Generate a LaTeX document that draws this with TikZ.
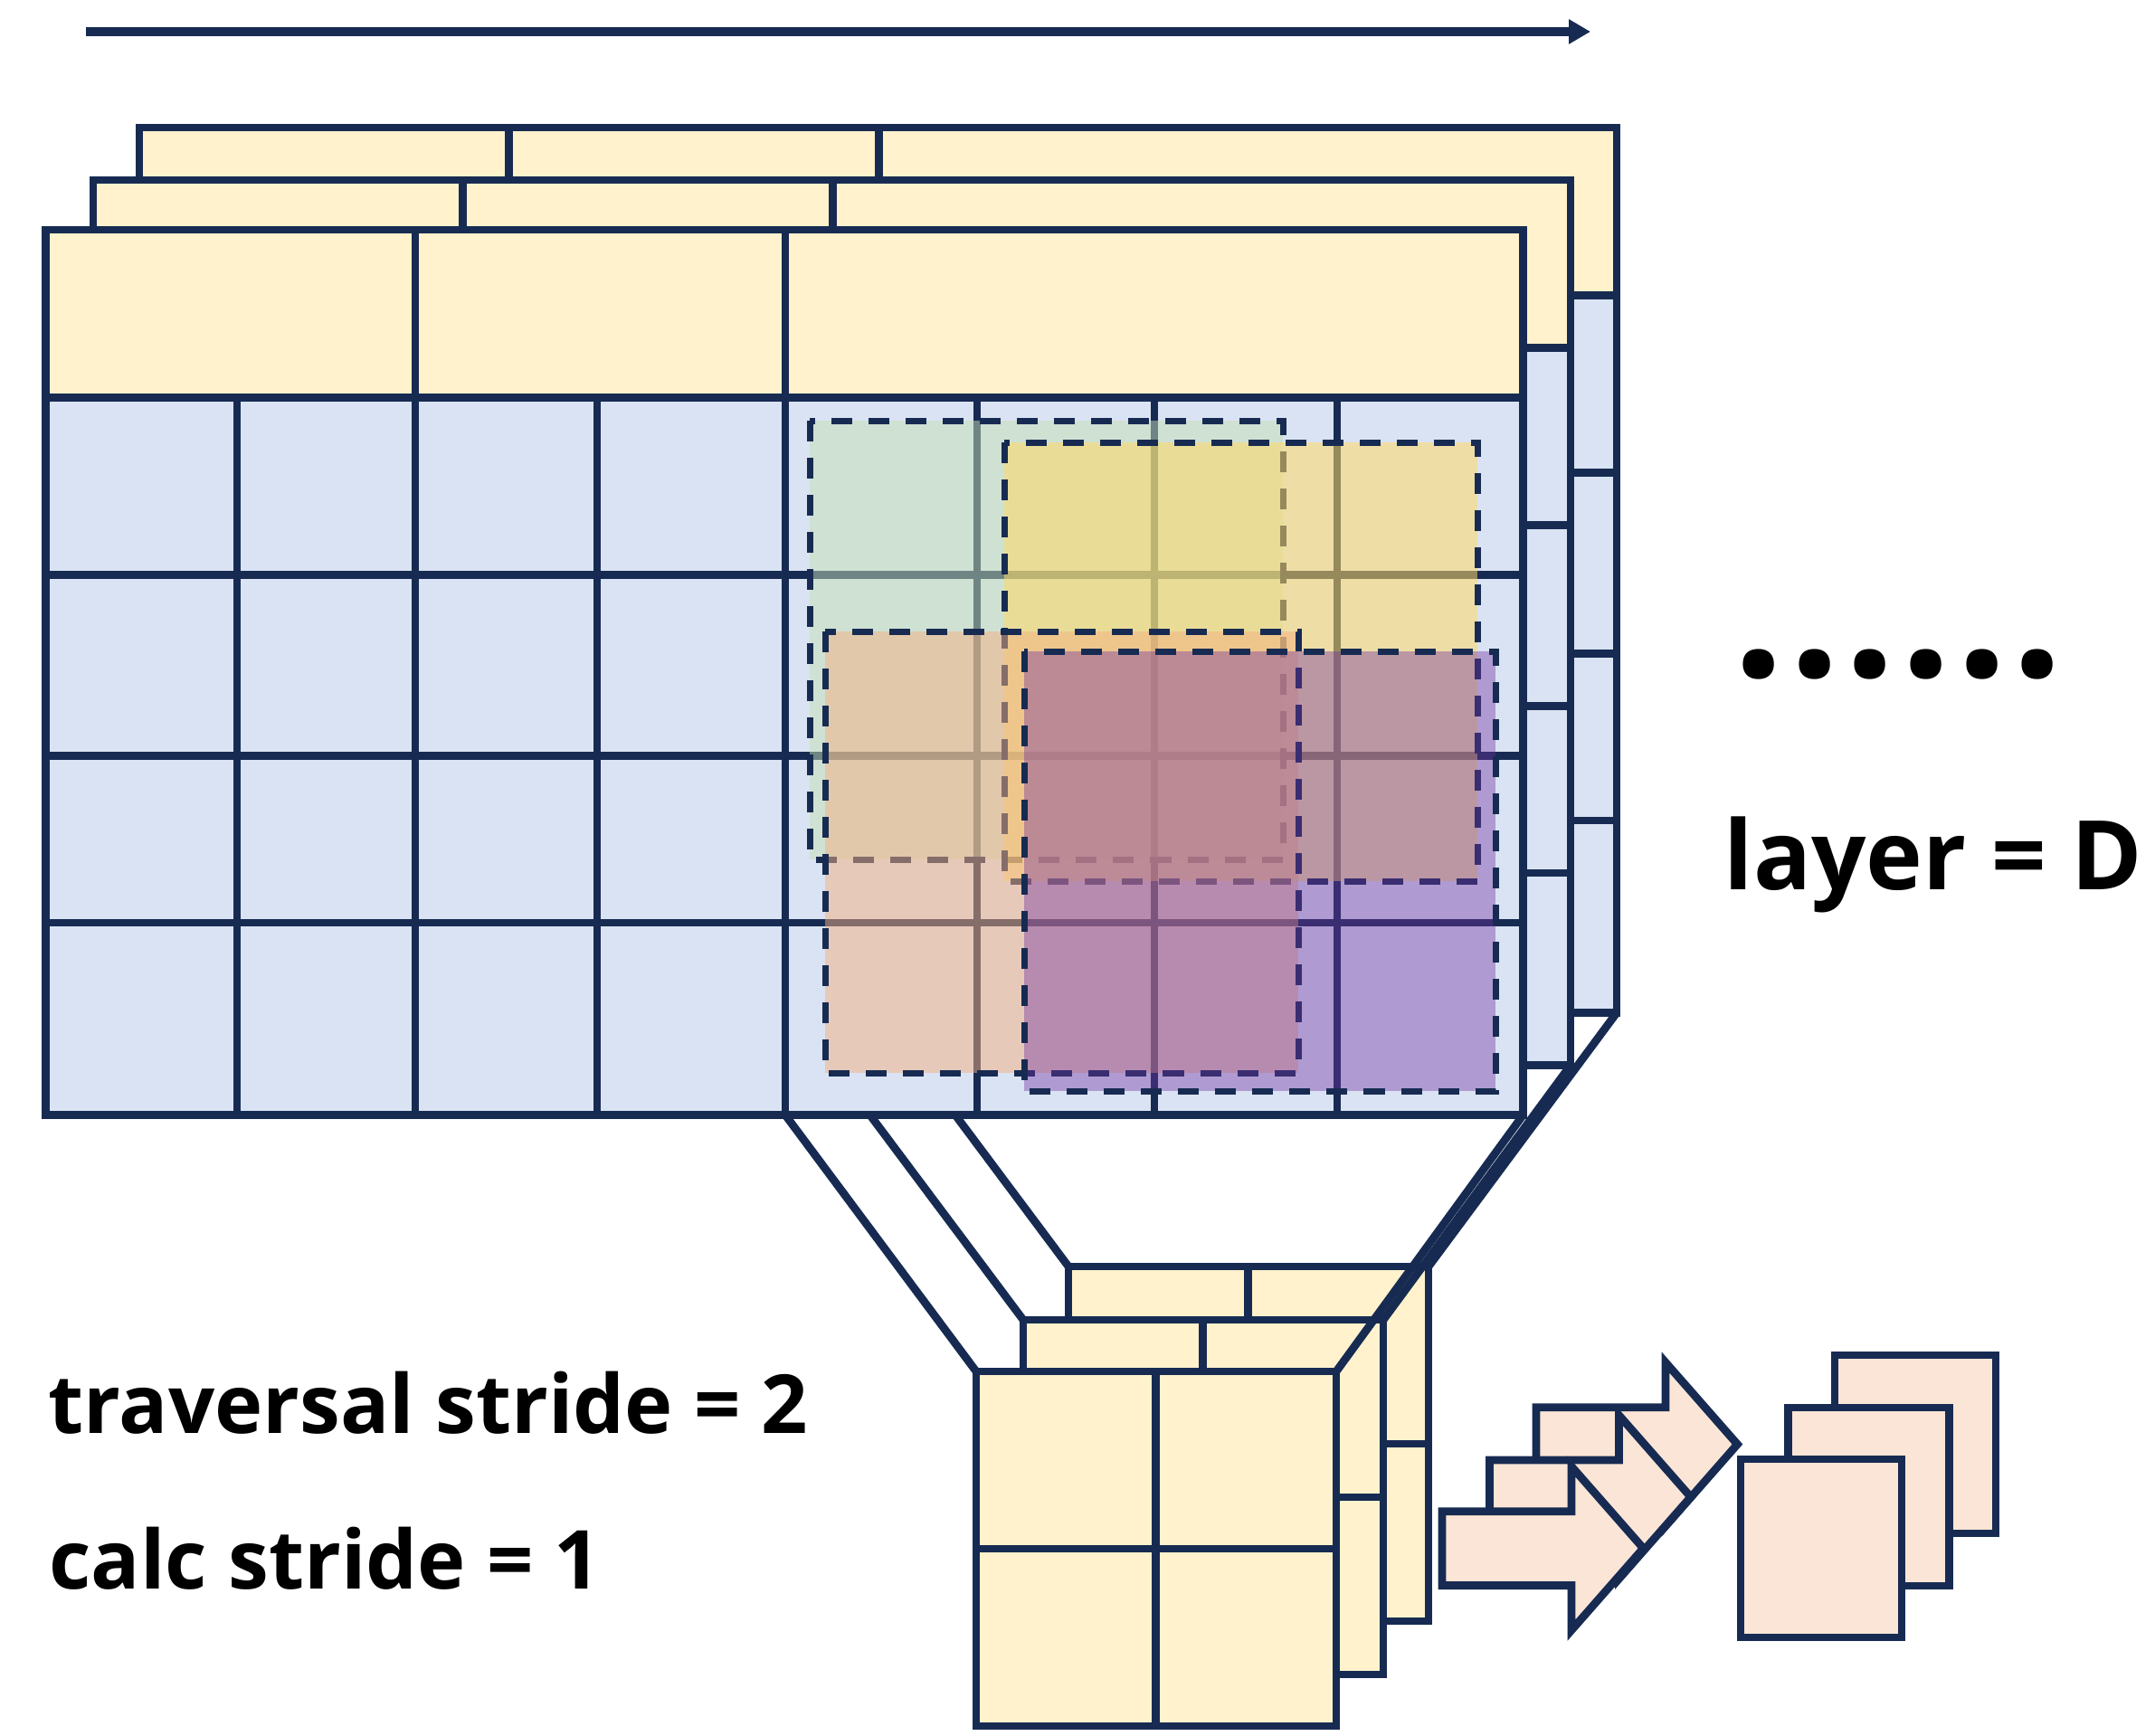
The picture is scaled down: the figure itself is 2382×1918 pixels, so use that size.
\documentclass[tikz,border=0pt]{standalone}
\usepackage{fontspec}
\setmainfont{Open Sans}
\usetikzlibrary{arrows.meta}
\definecolor{navy}{HTML}{172B52}
\definecolor{bluef}{HTML}{DAE3F3}
\definecolor{yelf}{HTML}{FFF2CC}
\definecolor{peach}{HTML}{FBE5D6}
\definecolor{gfill}{HTML}{C5E0B4}
\definecolor{yfill}{HTML}{FFD966}
\definecolor{ofill}{HTML}{F4B183}
\definecolor{pfill}{HTML}{7030A0}
\newcommand\biglayer[1]{%
\begin{scope}[shift={#1}]
\fill[bluef] (50.5,254) rectangle (1683.5,1232.5);
\fill[yelf] (50.5,254) rectangle (1683.5,439.3);
\foreach \y in {439.3,635.5,835.5,1020} \draw[gridline] (50.5,\y) -- (1683.5,\y);
\foreach \x in {262,459,660,868,1080,1276,1478} \draw[gridline] (\x,439.3) -- (\x,1232.5);
\draw[gridline] (459,254) -- (459,439.3) (868,254) -- (868,439.3);
\draw[gridline] (50.5,254) rectangle (1683.5,1232.5);
\end{scope}}
\newcommand\smalllayer[1]{%
\begin{scope}[shift={#1}]
\fill[yelf] (1079,1516) rectangle (1477,1908);
\draw[gridline] (1277.5,1516) -- (1277.5,1908) (1079,1712) -- (1477,1712);
\draw[gridline] (1079,1516) rectangle (1477,1908);
\end{scope}}
\newcommand\blockarrow[1]{%
\begin{scope}[shift={#1}]
\draw[gridline,fill=peach] (1594,1670.7) -- (1737,1670.7) -- (1737,1621) -- (1816.4,1711.5) -- (1737,1802) -- (1737,1752.6) -- (1594,1752.6) -- cycle;
\end{scope}}
\begin{document}
\begin{tikzpicture}[x=0.01cm,y=-0.01cm,
  gridline/.style={draw=navy,line width=0.088cm},
  conn/.style={draw=navy,line width=0.088cm},
  win/.style={draw=navy,line width=0.07cm,dash pattern=on 0.23cm off 0.18cm},
  lbl/.style={inner sep=0pt,anchor=base west,text=black}]
\useasboundingbox (0,0) rectangle (2382,1918);
% small cube back layers
\smalllayer{(102,-116)}
\smalllayer{(52,-57)}
% connector coordinates
\coordinate (bA1) at (868,1232.5);
\coordinate (bA2) at (920.5,1177.5);
\coordinate (bA3) at (971.5,1119.5);
\coordinate (bB1) at (1683.5,1232.5);
\coordinate (bB2) at (1736,1177.5);
\coordinate (bB3) at (1787,1119.5);
\coordinate (sA1) at (1079,1516);
\coordinate (sA2) at (1131,1459);
\coordinate (sA3) at (1181,1400);
\coordinate (sB1) at (1477,1516);
\coordinate (sB2) at (1529,1459);
\coordinate (sB3) at (1579,1400);
\draw[conn] (bA1) -- (sA1);
\draw[conn] (bA2) -- (sA2);
\draw[conn] (bA3) -- (sA3);
\draw[conn] (bB1) -- (sB1);
\draw[conn] (bB2) -- (sB2);
\draw[conn] (bB3) -- (sB3);
% big layers
\biglayer{(103.5,-113)}
\biglayer{(52.5,-55)}
\biglayer{(0,0)}
% sliding windows
\draw[win,fill=gfill,fill opacity=0.5] (895,465) rectangle (1418,950);
\draw[win,fill=yfill,fill opacity=0.55] (1110,489) rectangle (1633,974);
\draw[win,fill=ofill,fill opacity=0.5] (912,698) rectangle (1435,1186);
\draw[win,fill=pfill,fill opacity=0.4] (1132,720) rectangle (1653,1206);
% small cube front
\smalllayer{(0,0)}
% block arrows
\blockarrow{(104,-115)}
\blockarrow{(52.4,-56.7)}
\blockarrow{(0,0)}
% output maps
\draw[gridline,fill=peach] (2028,1498) rectangle (2206,1695);
\draw[gridline,fill=peach] (1976.5,1556) rectangle (2154.5,1753);
\draw[gridline,fill=peach] (1924,1613) rectangle (2102,1810);
% top arrow
\coordinate (arrS) at (95,35);
\coordinate (arrE) at (1758,35);
\draw[navy,line width=0.09cm,-{Triangle[length=0.24cm,width=0.26cm]}] (arrS) -- (arrE);
% labels
\node[lbl,font=\bfseries\fontsize{25.6}{30}\selectfont] (trav) at (53,1584) {traversal stride = 2};
\node[lbl,font=\bfseries\fontsize{25.6}{30}\selectfont] (calc) at (54,1756) {calc stride = 1};
\node[lbl,font=\bfseries\fontsize{30.2}{34}\selectfont] (layerD) at (1905,983) {layer = D};
\node[lbl,font=\bfseries\fontsize{57}{60}\selectfont] (dots) at (1915,748) {.\kern0.045cm.\kern0.045cm.\kern0.045cm.\kern0.045cm.\kern0.045cm.};
\end{tikzpicture}
\end{document}
